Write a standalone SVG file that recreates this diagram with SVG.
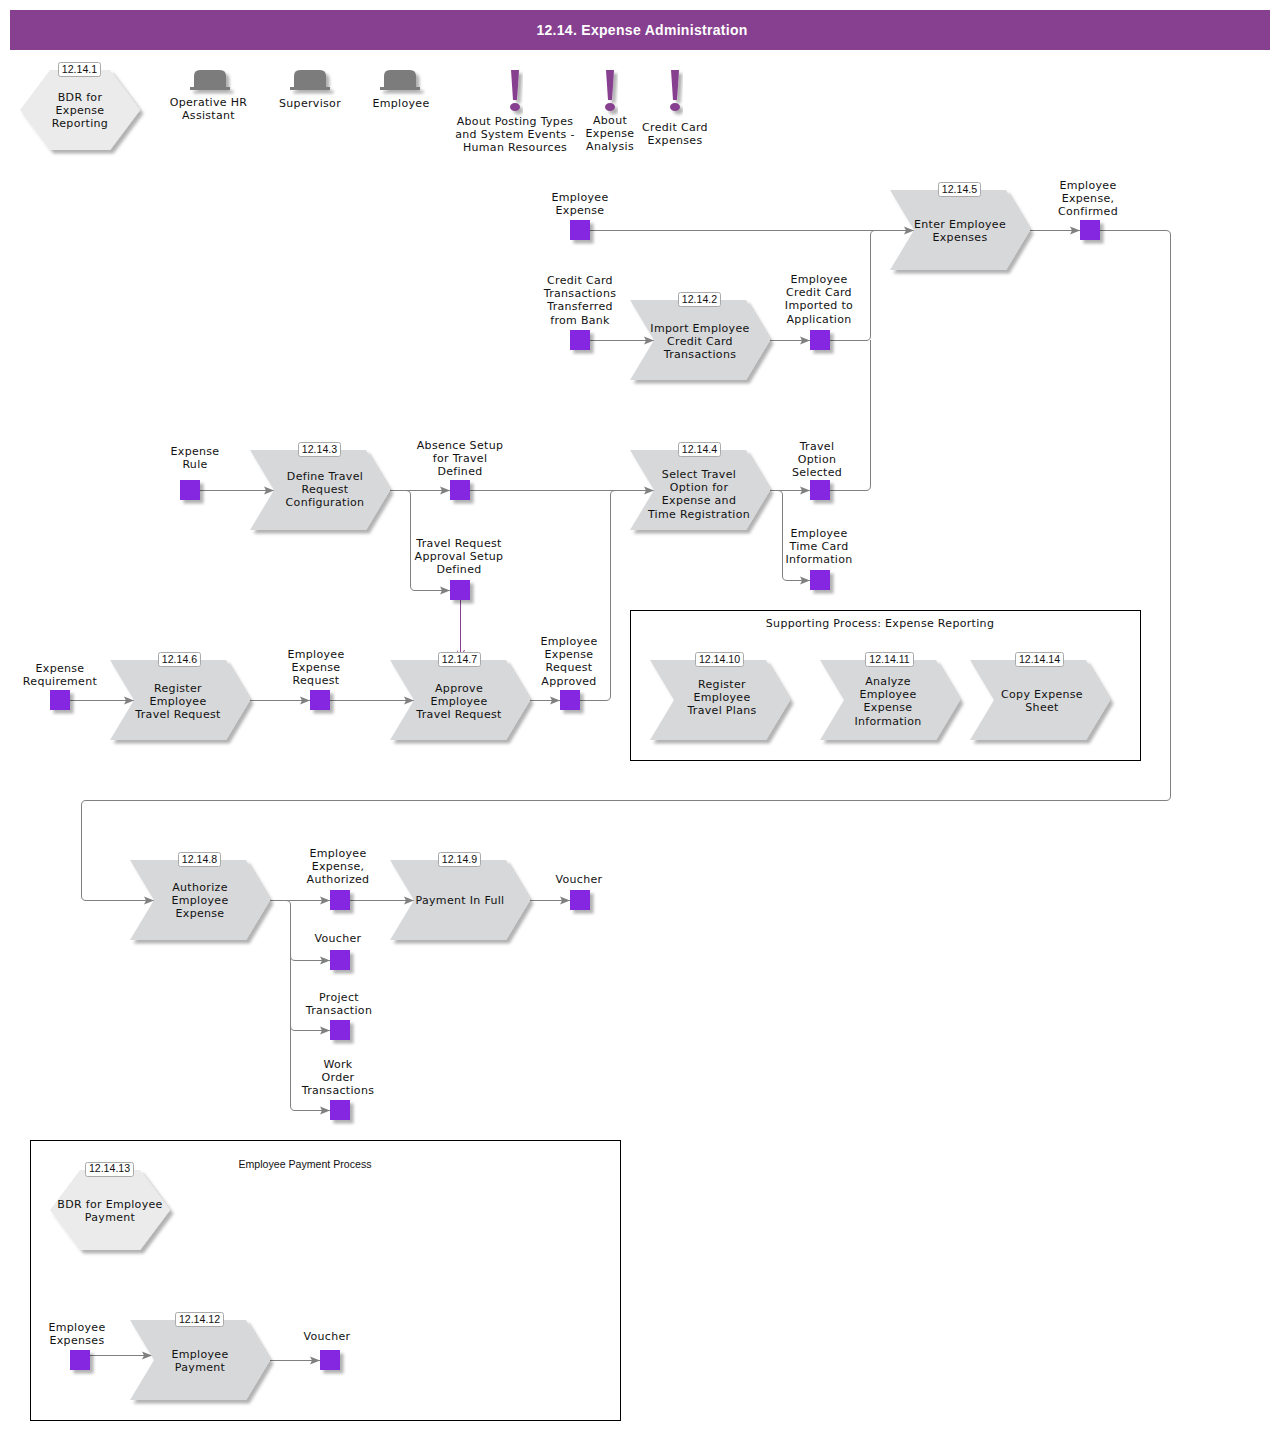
<svg xmlns="http://www.w3.org/2000/svg" width="1280" height="1430" viewBox="0 0 1280 1430">
<style>
text{font-family:"DejaVu Sans",Verdana,sans-serif;font-size:11px;letter-spacing:.32px;fill:#111;text-anchor:middle}
.b{font-family:"Liberation Sans",Arial,sans-serif;font-size:10.6px;letter-spacing:0}
.badge{fill:#fff;stroke:#aaa;stroke-width:1}
.ch{fill:#d7d8da;filter:url(#s)}
.hx{fill:#ebebeb;filter:url(#s)}
.sq{fill:#8527e0;filter:url(#s)}
.hat{fill:#7b7b7b;filter:url(#s)}
.ex{fill:#873f8f;filter:url(#s)}
.c{fill:none;stroke:#808080;stroke-width:1;marker-end:url(#a)}
.n{fill:none;stroke:#808080;stroke-width:1}
.box{fill:none;stroke:#000;stroke-width:1}
</style>
<defs>
<filter id="s" x="-20%" y="-20%" width="150%" height="150%"><feDropShadow dx="3.500" dy="3.500" stdDeviation="1.400" flood-color="#000" flood-opacity="0.3"/></filter>
<marker id="a" markerUnits="userSpaceOnUse" markerWidth="12" markerHeight="10" refX="11" refY="5" orient="auto"><path d="M1 1L11 5L1 9L3 5Z" fill="#808080"/></marker>
<marker id="p" markerUnits="userSpaceOnUse" markerWidth="10" markerHeight="8" refX="8" refY="4" orient="auto"><path d="M0 0L8 4L0 8" fill="none" stroke="#873f8f"/></marker>
<path id="chev" d="M0 0H116L140 40L116 80H0L24 40Z"/>
<path id="hex" d="M30 0H90L120 40L90 80H30L0 40Z"/>
<path id="sqr" d="M0 0H20V20H0Z"/>
<path id="hatp" d="M4 17V6Q4 0 10 0H30Q36 0 36 6V17ZM0 17H40V20H0Z"/>
<path id="exc" d="M0 0H8L6 30H2ZM4 33C7 33 9 35 9 37C9 39 7 41 4 41C1 41 -1 39 -1 37C-1 35 1 33 4 33Z"/>
</defs>
<rect id="title" x="10" y="10" width="1260" height="40" fill="#873f8f"/>
<text x="642" y="35" style="font-family:'Liberation Sans',sans-serif;font-weight:bold;font-size:14px;letter-spacing:.3px;fill:#fff">12.14. Expense Administration</text>

<g id="connectors">
<path class="c" d="M590 230.500H914"/>
<path class="c" d="M590 340.500H654"/>
<path class="c" d="M770 340.500H810"/>
<path class="n" d="M830 340.500H866Q870.500 340.500 870.500 336V235Q870.500 230.500 875 230.500H890"/>
<path class="n" d="M830 490.500H866Q870.500 490.500 870.500 486V340"/>
<path class="c" d="M1030 230.500H1080"/>
<path class="c" d="M1100 230.500H1166Q1170.500 230.500 1170.500 235V796Q1170.500 800.500 1166 800.500H86Q81.500 800.500 81.500 805V896Q81.500 900.500 86 900.500H154"/>
<path class="c" d="M200 490.500H274"/>
<path class="c" d="M390 490.500H450"/>
<path class="c" d="M406 490.500Q410.500 490.500 410.500 495V586Q410.500 590.500 415 590.500H450"/>
<path class="c" d="M470 490.500H654"/>
<path d="M460.500 600V658" fill="none" stroke="#873f8f" marker-end="url(#p)"/>
<path class="n" d="M580 700.500H606Q610.500 700.500 610.500 696V495Q610.500 490.500 615 490.500H630"/>
<path class="c" d="M530 700.500H560"/>
<path class="c" d="M330 700.500H414"/>
<path class="c" d="M250 700.500H310"/>
<path class="c" d="M70 700.500H134"/>
<path class="c" d="M770 490.500H810"/>
<path class="c" d="M778 490.500Q782.500 490.500 782.500 495V576Q782.500 580.500 787 580.500H810"/>
<path class="c" d="M270 900.500H330"/>
<path class="c" d="M286 900.500Q290.500 900.500 290.500 905V956Q290.500 960.500 295 960.500H330"/>
<path class="c" d="M290.500 950V1026Q290.500 1030.500 295 1030.500H330"/>
<path class="c" d="M290.500 1020V1106Q290.500 1110.500 295 1110.500H330"/>
<path class="c" d="M350 900.500H414"/>
<path class="c" d="M530 900.500H570"/>
<path class="c" d="M90 1355.500H152"/>
<path class="c" d="M270 1360.500H320"/>
</g>

<g id="box1"><rect class="box" x="630.500" y="610.500" width="510" height="150"/><text x="880" y="627">Supporting Process: Expense Reporting</text></g>
<g id="box2"><rect class="box" x="30.500" y="1140.500" width="590" height="280"/><text class="b" x="305" y="1168">Employee Payment Process</text></g>

<g id="n12.14.1"><use href="#hex" x="20" y="70" class="hx"/><rect class="badge" x="58.500" y="62.500" width="42" height="14" rx="2"/><text class="b" x="79.500" y="73">12.14.1</text><text x="80" y="101">BDR for</text><text x="80" y="114">Expense</text><text x="80" y="127">Reporting</text></g>
<g id="r1"><use href="#hatp" x="190" y="70" class="hat"/><text x="208.500" y="106">Operative HR</text><text x="208.500" y="119">Assistant</text></g>
<g id="r2"><use href="#hatp" x="290" y="70" class="hat"/><text x="310" y="107">Supervisor</text></g>
<g id="r3"><use href="#hatp" x="380" y="70" class="hat"/><text x="401" y="107">Employee</text></g>
<g id="k1"><use href="#exc" x="511" y="70" class="ex"/><text x="515" y="125">About Posting Types</text><text x="515" y="138">and System Events -</text><text x="515" y="151">Human Resources</text></g>
<g id="k2"><use href="#exc" x="606" y="70" class="ex"/><text x="610" y="124">About</text><text x="610" y="137">Expense</text><text x="610" y="150">Analysis</text></g>
<g id="k3"><use href="#exc" x="671" y="70" class="ex"/><text x="675" y="131">Credit Card</text><text x="675" y="144">Expenses</text></g>

<g id="n12.14.5"><use href="#chev" x="890" y="190" class="ch"/><rect class="badge" x="938.500" y="182.500" width="42" height="14" rx="2"/><text class="b" x="959.500" y="193">12.14.5</text><text x="960" y="228">Enter Employee</text><text x="960" y="241">Expenses</text></g>
<g id="n12.14.2"><use href="#chev" x="630" y="300" class="ch"/><rect class="badge" x="678.500" y="292.500" width="42" height="14" rx="2"/><text class="b" x="699.500" y="303">12.14.2</text><text x="700" y="332">Import Employee</text><text x="700" y="345">Credit Card</text><text x="700" y="358">Transactions</text></g>
<g id="n12.14.3"><use href="#chev" x="250" y="450" class="ch"/><rect class="badge" x="298.500" y="442.500" width="42" height="14" rx="2"/><text class="b" x="319.500" y="453">12.14.3</text><text x="325" y="480">Define Travel</text><text x="325" y="493">Request</text><text x="325" y="506">Configuration</text></g>
<g id="n12.14.4"><use href="#chev" x="630" y="450" class="ch"/><rect class="badge" x="678.500" y="442.500" width="42" height="14" rx="2"/><text class="b" x="699.500" y="453">12.14.4</text><text x="699" y="478">Select Travel</text><text x="699" y="491">Option for</text><text x="699" y="504">Expense and</text><text x="699" y="518">Time Registration</text></g>
<g id="n12.14.6"><use href="#chev" x="110" y="660" class="ch"/><rect class="badge" x="158.500" y="652.500" width="42" height="14" rx="2"/><text class="b" x="179.500" y="663">12.14.6</text><text x="178" y="692">Register</text><text x="178" y="705">Employee</text><text x="178" y="718">Travel Request</text></g>
<g id="n12.14.7"><use href="#chev" x="390" y="660" class="ch"/><rect class="badge" x="438.500" y="652.500" width="42" height="14" rx="2"/><text class="b" x="459.500" y="663">12.14.7</text><text x="459" y="692">Approve</text><text x="459" y="705">Employee</text><text x="459" y="718">Travel Request</text></g>
<g id="n12.14.10"><use href="#chev" x="650" y="660" class="ch"/><rect class="badge" x="695.500" y="652.500" width="48" height="14" rx="2"/><text class="b" x="719.500" y="663">12.14.10</text><text x="722" y="688">Register</text><text x="722" y="701">Employee</text><text x="722" y="714">Travel Plans</text></g>
<g id="n12.14.11"><use href="#chev" x="820" y="660" class="ch"/><rect class="badge" x="865.500" y="652.500" width="48" height="14" rx="2"/><text class="b" x="889.500" y="663">12.14.11</text><text x="888" y="685">Analyze</text><text x="888" y="698">Employee</text><text x="888" y="711">Expense</text><text x="888" y="725">Information</text></g>
<g id="n12.14.14"><use href="#chev" x="970" y="660" class="ch"/><rect class="badge" x="1015.500" y="652.500" width="48" height="14" rx="2"/><text class="b" x="1039.500" y="663">12.14.14</text><text x="1042" y="698">Copy Expense</text><text x="1042" y="711">Sheet</text></g>
<g id="n12.14.8"><use href="#chev" x="130" y="860" class="ch"/><rect class="badge" x="178.500" y="852.500" width="42" height="14" rx="2"/><text class="b" x="199.500" y="863">12.14.8</text><text x="200" y="891">Authorize</text><text x="200" y="904">Employee</text><text x="200" y="917">Expense</text></g>
<g id="n12.14.9"><use href="#chev" x="390" y="860" class="ch"/><rect class="badge" x="438.500" y="852.500" width="42" height="14" rx="2"/><text class="b" x="459.500" y="863">12.14.9</text><text x="460" y="904">Payment In Full</text></g>
<g id="n12.14.13"><use href="#hex" x="50" y="1170" class="hx"/><rect class="badge" x="85.500" y="1162.500" width="48" height="14" rx="2"/><text class="b" x="109.500" y="1172">12.14.13</text><text x="110" y="1208">BDR for Employee</text><text x="110" y="1221">Payment</text></g>
<g id="n12.14.12"><use href="#chev" x="130" y="1320" class="ch"/><rect class="badge" x="175.500" y="1312.500" width="48" height="14" rx="2"/><text class="b" x="199.500" y="1323">12.14.12</text><text x="200" y="1358">Employee</text><text x="200" y="1371">Payment</text></g>

<g id="d1"><use href="#sqr" x="570" y="220" class="sq"/><text x="580" y="201">Employee</text><text x="580" y="214">Expense</text></g>
<g id="d2"><use href="#sqr" x="1080" y="220" class="sq"/><text x="1088" y="189">Employee</text><text x="1088" y="202">Expense,</text><text x="1088" y="215">Confirmed</text></g>
<g id="d3"><use href="#sqr" x="570" y="330" class="sq"/><text x="580" y="284">Credit Card</text><text x="580" y="297">Transactions</text><text x="580" y="310">Transferred</text><text x="580" y="324">from Bank</text></g>
<g id="d4"><use href="#sqr" x="810" y="330" class="sq"/><text x="819" y="283">Employee</text><text x="819" y="296">Credit Card</text><text x="819" y="309">Imported to</text><text x="819" y="323">Application</text></g>
<g id="d5"><use href="#sqr" x="180" y="480" class="sq"/><text x="195" y="455">Expense</text><text x="195" y="468">Rule</text></g>
<g id="d6"><use href="#sqr" x="450" y="480" class="sq"/><text x="460" y="449">Absence Setup</text><text x="460" y="462">for Travel</text><text x="460" y="475">Defined</text></g>
<g id="d7"><use href="#sqr" x="810" y="480" class="sq"/><text x="817" y="450">Travel</text><text x="817" y="463">Option</text><text x="817" y="476">Selected</text></g>
<g id="d8"><use href="#sqr" x="810" y="570" class="sq"/><text x="819" y="537">Employee</text><text x="819" y="550">Time Card</text><text x="819" y="563">Information</text></g>
<g id="d9"><use href="#sqr" x="450" y="580" class="sq"/><text x="459" y="547">Travel Request</text><text x="459" y="560">Approval Setup</text><text x="459" y="573">Defined</text></g>
<g id="d10"><use href="#sqr" x="50" y="690" class="sq"/><text x="60" y="672">Expense</text><text x="60" y="685">Requirement</text></g>
<g id="d11"><use href="#sqr" x="310" y="690" class="sq"/><text x="316" y="658">Employee</text><text x="316" y="671">Expense</text><text x="316" y="684">Request</text></g>
<g id="d12"><use href="#sqr" x="560" y="690" class="sq"/><text x="569" y="645">Employee</text><text x="569" y="658">Expense</text><text x="569" y="671">Request</text><text x="569" y="685">Approved</text></g>
<g id="d13"><use href="#sqr" x="330" y="890" class="sq"/><text x="338" y="857">Employee</text><text x="338" y="870">Expense,</text><text x="338" y="883">Authorized</text></g>
<g id="d14"><use href="#sqr" x="570" y="890" class="sq"/><text x="579" y="883">Voucher</text></g>
<g id="d15"><use href="#sqr" x="330" y="950" class="sq"/><text x="338" y="942">Voucher</text></g>
<g id="d16"><use href="#sqr" x="330" y="1020" class="sq"/><text x="339" y="1001">Project</text><text x="339" y="1014">Transaction</text></g>
<g id="d17"><use href="#sqr" x="330" y="1100" class="sq"/><text x="338" y="1068">Work</text><text x="338" y="1081">Order</text><text x="338" y="1094">Transactions</text></g>
<g id="d18"><use href="#sqr" x="70" y="1350" class="sq"/><text x="77" y="1331">Employee</text><text x="77" y="1344">Expenses</text></g>
<g id="d19"><use href="#sqr" x="320" y="1350" class="sq"/><text x="327" y="1340">Voucher</text></g>
</svg>
